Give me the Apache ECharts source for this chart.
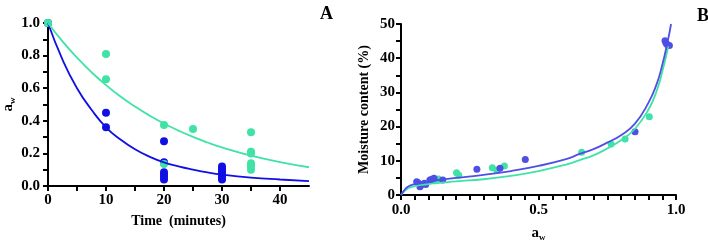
<!DOCTYPE html>
<html>
<head>
<meta charset="utf-8">
<script src="https://cdn.jsdelivr.net/npm/echarts@6/dist/echarts.min.js"></script>
<style>
  html, body { margin: 0; padding: 0; background: #fff; }
  #chart { width: 708px; height: 242px; }
</style>
</head>
<body>
<div id="chart"></div>
<script>
// panel A: water activity vs drying time
const aBlueT  = [0, 10, 10, 20, 20, 20, 20, 20, 20, 30, 30, 30, 30, 30, 30, 30];
const aBlueAw = [1.0, 0.45, 0.36, 0.275, 0.145, 0.085, 0.07, 0.055, 0.04, 0.12, 0.105, 0.09, 0.075, 0.06, 0.05, 0.04];
const aGreenT  = [0, 10, 10, 20, 20, 25, 35, 35, 35, 35, 35, 35];
const aGreenAw = [1.0, 0.81, 0.655, 0.375, 0.135, 0.35, 0.33, 0.21, 0.2, 0.14, 0.12, 0.10];
// fitted curves
const fitT      = [0, 2.5, 5, 7.5, 10, 12.5, 15, 17.5, 20, 22.5, 25, 27.5, 30, 35, 40, 45];
const fitBlueA  = [1, 0.775, 0.6, 0.468, 0.36, 0.285, 0.225, 0.18, 0.145, 0.12, 0.1, 0.083, 0.07, 0.052, 0.04, 0.03];
const fitGreenA = [1, 0.887, 0.787, 0.698, 0.619, 0.549, 0.487, 0.432, 0.383, 0.34, 0.301, 0.267, 0.237, 0.186, 0.147, 0.115];

// panel B: sorption isotherm
const bBlueAw = [0.057, 0.062, 0.069, 0.075, 0.085, 0.09, 0.105, 0.112, 0.12, 0.152, 0.276, 0.36, 0.452, 0.851, 0.96, 0.964, 0.968, 0.976];
const bBlueM  = [3.9, 3.6, 2.4, 3.0, 3.4, 3.1, 4.4, 4.6, 4.9, 4.4, 7.5, 7.8, 10.4, 18.5, 45.1, 44.4, 44.0, 43.7];
const bGreenAw = [0.124, 0.136, 0.202, 0.21, 0.332, 0.348, 0.376, 0.657, 0.764, 0.815, 0.903];
const bGreenM  = [4.2, 4.7, 6.5, 5.8, 8.0, 7.3, 8.5, 12.5, 14.9, 16.4, 22.9];
const fitBlueAw  = [0, 0.01, 0.025, 0.05, 0.1, 0.15, 0.2, 0.3, 0.4, 0.5, 0.6, 0.65, 0.7, 0.75, 0.8, 0.85, 0.9, 0.93, 0.95, 0.97, 0.982];
const fitBlueM   = [0, 1.2, 2.4, 3.2, 4.0, 4.5, 5.0, 5.9, 7.0, 8.5, 10.5, 12.0, 13.4, 15.3, 17.5, 20.8, 27, 32.5, 38, 45, 50];
const fitGreenAw = [0, 0.01, 0.025, 0.05, 0.1, 0.15, 0.2, 0.3, 0.4, 0.5, 0.6, 0.65, 0.7, 0.75, 0.8, 0.85, 0.9, 0.93, 0.95, 0.972];
const fitGreenM  = [0, 0.9, 1.9, 2.6, 3.2, 3.6, 4.0, 4.6, 5.6, 7.0, 8.9, 10.2, 11.6, 13.6, 16.0, 19.3, 25.0, 30.5, 36, 43.5];

const blueA = '#1010e4';
const blueB = '#4f4fe6';
const green = '#3fe3a6';
const serif = 'Liberation Serif';

const zip = (xs, ys) => xs.map((x, i) => [x, ys[i]]);

const axisCommon = {
  axisLine: { show: true, lineStyle: { color: '#000', width: 2 } },
  axisTick: { show: true, length: 5, lineStyle: { color: '#000', width: 2 } },
  splitLine: { show: false },
  axisLabel: { color: '#000', fontFamily: serif, fontWeight: 'bold', fontSize: 15 },
  nameTextStyle: { color: '#000', fontFamily: serif, fontWeight: 'bold', fontSize: 14 }
};
const awRich = {
  a: { fontFamily: serif, fontWeight: 'bold', fontSize: 15, color: '#000' },
  w: { fontFamily: serif, fontWeight: 'bold', fontSize: 9, color: '#000', padding: [8, 0, 0, 0] }
};

const option = {
  backgroundColor: '#fff',
  animation: false,
  title: [
    { text: 'A', left: 315, top: 0, textStyle: { fontFamily: serif, fontWeight: 'bold', fontSize: 18, color: '#000' } },
    { text: 'B', left: 692, top: 2, textStyle: { fontFamily: serif, fontWeight: 'bold', fontSize: 18, color: '#000' } }
  ],
  grid: [
    { left: 48, top: 23, width: 261, height: 163, outerBoundsMode: 'none' },
    { left: 401, top: 24, width: 275, height: 171, outerBoundsMode: 'none' }
  ],
  xAxis: [
    Object.assign({}, axisCommon, {
      gridIndex: 0, type: 'value', min: 0, max: 45, interval: 5,
      name: 'Time  (minutes)', nameLocation: 'middle', nameGap: 28,
      axisLabel: Object.assign({}, axisCommon.axisLabel, {
        margin: 7, showMaxLabel: false,
        formatter: v => (v % 10 === 0 ? String(v) : '')
      })
    }),
    Object.assign({}, axisCommon, {
      gridIndex: 1, type: 'value', min: 0, max: 1, interval: 0.05,
      name: '{a|a}{w|w}', nameLocation: 'middle', nameGap: 30,
      nameTextStyle: Object.assign({}, axisCommon.nameTextStyle, { rich: awRich }),
      axisLabel: Object.assign({}, axisCommon.axisLabel, {
        margin: 8,
        formatter: v => {
          const r = Math.round(v * 100);
          return r % 50 === 0 ? (r / 100).toFixed(1) : '';
        }
      })
    })
  ],
  yAxis: [
    Object.assign({}, axisCommon, {
      gridIndex: 0, type: 'value', min: 0, max: 1, interval: 0.1,
      name: '{a|a}{w|w}', nameLocation: 'middle', nameGap: 31, nameRotate: 90,
      nameTextStyle: Object.assign({}, axisCommon.nameTextStyle, { rich: awRich }),
      axisLabel: Object.assign({}, axisCommon.axisLabel, {
        margin: 8,
        formatter: v => {
          const r = Math.round(v * 10);
          return r % 2 === 0 ? (r / 10).toFixed(1) : '';
        }
      })
    }),
    Object.assign({}, axisCommon, {
      gridIndex: 1, type: 'value', min: 0, max: 50, interval: 5,
      name: 'Moisture content (%)', nameLocation: 'middle', nameGap: 30, nameRotate: 90,
      axisLabel: Object.assign({}, axisCommon.axisLabel, {
        margin: 6,
        formatter: v => (v % 10 === 0 ? String(v) : '')
      })
    })
  ],
  series: [
    { type: 'line', xAxisIndex: 0, yAxisIndex: 0, data: zip(fitT, fitBlueA), smooth: true, showSymbol: false, lineStyle: { color: blueA, width: 1.8 } },
    { type: 'line', xAxisIndex: 0, yAxisIndex: 0, data: zip(fitT, fitGreenA), smooth: true, showSymbol: false, lineStyle: { color: green, width: 1.8 } },
    { type: 'scatter', xAxisIndex: 0, yAxisIndex: 0, data: zip(aBlueT, aBlueAw), symbolSize: 8, itemStyle: { color: blueA, opacity: 1 } },
    { type: 'scatter', xAxisIndex: 0, yAxisIndex: 0, data: zip(aGreenT, aGreenAw), symbolSize: 8, itemStyle: { color: green, opacity: 1 } },

    { type: 'line', xAxisIndex: 1, yAxisIndex: 1, data: zip(fitGreenAw, fitGreenM), smooth: true, showSymbol: false, lineStyle: { color: green, width: 1.8 } },
    { type: 'line', xAxisIndex: 1, yAxisIndex: 1, data: zip(fitBlueAw, fitBlueM), smooth: true, showSymbol: false, lineStyle: { color: blueB, width: 1.8 } },
    { type: 'scatter', xAxisIndex: 1, yAxisIndex: 1, data: zip(bGreenAw, bGreenM), symbolSize: 7, itemStyle: { color: green, opacity: 1 } },
    { type: 'scatter', xAxisIndex: 1, yAxisIndex: 1, data: zip(bBlueAw, bBlueM), symbolSize: 7, itemStyle: { color: blueB, opacity: 1 } }
  ]
};

const chart = echarts.init(document.getElementById('chart'), null, { renderer: 'canvas' });
chart.setOption(option);
</script>
</body>
</html>
